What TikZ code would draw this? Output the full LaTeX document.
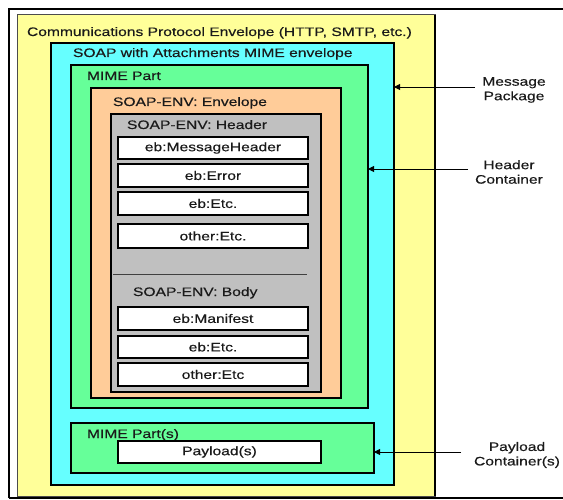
\documentclass[tikz,border=0pt]{standalone}
\usepackage{fontspec}
\setmainfont{Liberation Sans}[FakeStretch=1.27,FakeBold=0.35]
\usetikzlibrary{arrows.meta,fit}

\definecolor{envyellow}{HTML}{FFFF99}
\definecolor{envcyan}{HTML}{66FFFF}
\definecolor{envgreen}{HTML}{66FF99}
\definecolor{envorange}{HTML}{FFCC99}
\definecolor{envgray}{HTML}{C0C0C0}
\definecolor{inktext}{HTML}{1A1A1A}

\begin{document}
\begin{tikzpicture}[x=1pt,y=-1pt,
  every node/.style={inner sep=0pt,outer sep=0pt,text=inktext,
    font=\fontsize{12.3}{14.5}\selectfont},
  layer/.style={rectangle,draw=black,line width=#1},
  layer/.default=1.2pt,
  element/.style={rectangle,draw=black,fill=white,line width=2pt},
  title/.style={anchor=base west},
  sidelabel/.style={align=center},
  pointer/.style={draw=black,line width=0.9pt,-{Triangle[length=6pt,width=6pt]}}]

\useasboundingbox (0,0) rectangle (563,500);
\clip (0,0) rectangle (563,500);

% outer page frame
\draw[line width=2pt] (9,498) -- (9,9) -- (575,9);
\draw[line width=2pt] (9,498) -- (575,498);

% nested envelopes
\node[layer=1pt,draw=black!70,fill=envyellow,fit={(17,15) (435,496)}] (protocol) {};
\draw[line width=2.2pt] (protocol.north east) -- (protocol.south east);
\node[layer,fill=envcyan,fit={(51,43) (394,485)}] (mimeenv) {};
\node[layer,fill=envgreen,fit={(71,65) (368,408)}] (mimepart) {};
\node[layer=1.4pt,fill=envorange,fit={(91,88) (341,398)}] (soapenv) {};
\node[layer=1.6pt,fill=envgray,fit={(111,114) (321,392)}] (soaphdr) {};
\node[layer=1.4pt,fill=envgreen,fit={(71,423) (374,473)}] (mimeparts) {};
\draw[line width=2pt] (mimeparts.north east) -- (mimeparts.south east);

% envelope titles
\node[title] (tprotocol) at (27,36) {Communications Protocol Envelope (HTTP, SMTP, etc.)};
\node[title] (tmimeenv) at (73,57) {SOAP with Attachments MIME envelope};
\node[title] (tmimepart) at (87,80) {MIME Part};
\node[title] (tsoapenv) at (113,106) {SOAP-ENV: Envelope};
\node[title] (tsoaphdr) at (127,129) {SOAP-ENV: Header};
\node[title] (tsoapbody) at (133,296) {SOAP-ENV: Body};
\node[title] (tmimeparts) at (87,438) {MIME Part(s)};

% header / body divider
\draw[line width=0.9pt,draw=black!75] (113,274) -- (307,274);

% header entries
\node[element,fit={(118,137) (308,159)}] (msghdr) {};
\node at (msghdr.center) {eb:MessageHeader};
\node[element,fit={(118,164) (308,187)}] (err) {};
\node at (err.center) {eb:Error};
\node[element,fit={(118,192) (308,215)}] (hetc) {};
\node at (hetc.center) {eb:Etc.};
\node[element,fit={(118,224) (308,248)}] (hother) {};
\node at (hother.center) {other:Etc.};

% body entries
\node[element,fit={(118,307) (308,330)}] (manifest) {};
\node at (manifest.center) {eb:Manifest};
\node[element,fit={(118,336) (308,358)}] (betc) {};
\node at (betc.center) {eb:Etc.};
\node[element,fit={(118,363) (308,386)}] (bother) {};
\node at (bother.center) {other:Etc};

% payload
\node[element,fit={(118,441) (321,463)}] (payload) {};
\node at (payload.center) {Payload(s)};

% side labels and pointers
\node[sidelabel] (lpackage) at (514,90) {Message\\Package};
\node[sidelabel] (lheader) at (509,172) {Header\\Container};
\node[sidelabel] (lpayload) at (517,455) {Payload\\Container(s)};

\coordinate (cpackage) at (475,87);
\coordinate (cheader) at (468,169);
\coordinate (cpayload) at (461,452);

\draw[pointer] (cpackage) -- (mimeenv.east |- cpackage);
\draw[pointer] (cheader) -- (mimepart.east |- cheader);
\draw[pointer] (cpayload) -- (mimeparts.east |- cpayload);
\end{tikzpicture}
\end{document}
